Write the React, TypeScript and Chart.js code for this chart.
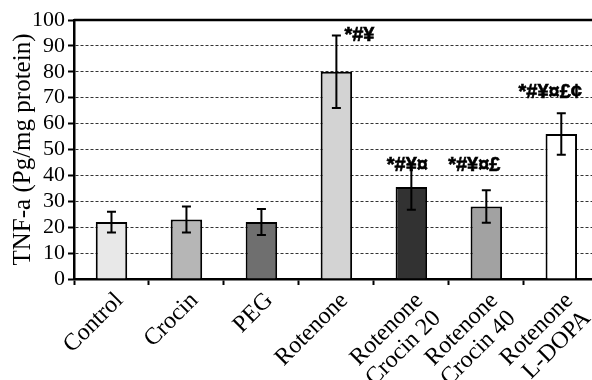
import React, { useEffect, useRef } from "react";
import { Chart, registerables } from "chart.js";

Chart.register(...registerables);

// ---- data ----
const categories: (string | string[])[] = [
  "Control",
  "Crocin",
  "PEG",
  "Rotenone",
  ["Rotenone", "Crocin 20"],
  ["Rotenone", "Crocin 40"],
  ["Rotenone", "L-DOPA"],
];
const meanValues = [22, 23, 22, 80, 35.5, 28, 56];
const errorValues = [4, 5, 5, 14, 8.8, 6.3, 8];
const significanceMarks = ["", "", "", "*#¥", "*#¥¤", "*#¥¤£", "*#¥¤£¢"];
const yMin = 0;
const yMax = 100;
const yStep = 10;
const yTitle = "TNF-a (Pg/mg protein)";

// ---- styles ----
const barColors = ["#e8e8e8", "#b6b6b6", "#6f6f6f", "#d3d3d3", "#323232", "#a2a2a2", "#ffffff"];
// per-bar annotation placement (pixel offsets from bar centre / error-bar top)
const markStyle = [
  null,
  null,
  null,
  { dx: 8, dy: 0, align: "left" },
  { dx: -4, dy: 1, align: "center" },
  { dx: -12, dy: -25, align: "center" },
  { dx: -11, dy: -21, align: "center" },
] as ({ dx: number; dy: number; align: CanvasTextAlign } | null)[];

const serif = "'Liberation Serif', 'Times New Roman', Times, serif";

const errorBarPlugin = {
  id: "errorBars",
  afterDatasetsDraw(chart: any) {
    const ctx = chart.ctx;
    const meta = chart.getDatasetMeta(0);
    const y = chart.scales.y;
    ctx.save();
    ctx.strokeStyle = "#000";
    ctx.lineWidth = 2;
    meta.data.forEach((bar: any, i: number) => {
      const x = bar.x;
      const top = y.getPixelForValue(meanValues[i] + errorValues[i]);
      const bot = y.getPixelForValue(meanValues[i] - errorValues[i]);
      const cap = 4.5;
      ctx.beginPath();
      ctx.moveTo(x, top);
      ctx.lineTo(x, bot);
      ctx.moveTo(x - cap, top);
      ctx.lineTo(x + cap, top);
      ctx.moveTo(x - cap, bot);
      ctx.lineTo(x + cap, bot);
      ctx.stroke();
    });
    // significance marks
    ctx.fillStyle = "#000";
    ctx.strokeStyle = "#000";
    ctx.lineWidth = 0.6;
    ctx.font = "bold 20px 'Liberation Sans', Arial, sans-serif";
    ctx.textBaseline = "middle";
    meta.data.forEach((bar: any, i: number) => {
      const s = markStyle[i];
      if (!s || !significanceMarks[i]) return;
      const top = y.getPixelForValue(meanValues[i] + errorValues[i]);
      ctx.textAlign = s.align;
      ctx.fillText(significanceMarks[i], bar.x + s.dx, top + s.dy);
      ctx.strokeText(significanceMarks[i], bar.x + s.dx, top + s.dy);
    });
    ctx.restore();
  },
};

const topBorderPlugin = {
  id: "topBorder",
  beforeDatasetsDraw(chart: any) {
    const { ctx, chartArea } = chart;
    ctx.save();
    ctx.strokeStyle = "#000";
    ctx.lineWidth = 2.5;
    ctx.beginPath();
    ctx.moveTo(chartArea.left, chartArea.top);
    ctx.lineTo(chartArea.right + 2, chartArea.top);
    ctx.stroke();
    ctx.restore();
  },
};

export default function App() {
  const ref = useRef<HTMLCanvasElement | null>(null);

  useEffect(() => {
    if (!ref.current) return;
    const chart = new Chart(ref.current, {
      type: "bar",
      data: {
        labels: categories,
        datasets: [
          {
            data: meanValues,
            backgroundColor: barColors,
            borderColor: "#000",
            borderWidth: 2,
            barPercentage: 0.42,
            categoryPercentage: 1,
          },
        ],
      },
      options: {
        responsive: false,
        animation: false,
        devicePixelRatio: 1,
        layout: { padding: { top: 20, left: 0, right: 1, bottom: 0 } },
        plugins: {
          legend: { display: false },
          tooltip: { enabled: false },
        },
        scales: {
          x: {
            offset: true,
            afterFit(scale: any) {
              scale.height = 101;
            },
            grid: {
              display: true,
              offset: true,
              drawOnChartArea: false,
              drawTicks: true,
              tickLength: 6,
              tickColor: "#000",
              tickWidth: 2,
            },
            border: { display: true, color: "#000", width: 2.5 },
            ticks: {
              autoSkip: false,
              maxRotation: 45,
              minRotation: 45,
              padding: 3,
              labelOffset: 8,
              color: "#000",
              font: { family: serif, size: 24, lineHeight: 1.05 },
            },
          },
          y: {
            min: yMin,
            max: yMax,
            afterFit(scale: any) {
              scale.width = 74;
            },
            grid: {
              display: true,
              color: "#333",
              lineWidth: 1,
              drawTicks: true,
              tickLength: 6,
              tickColor: "#000",
              tickWidth: 2,
              tickBorderDash: [],
            },
            border: { display: true, color: "#000", width: 2.5, dash: [3, 2] },
            ticks: {
              stepSize: yStep,
              autoSkip: false,
              padding: 3,
              color: "#000",
              font: { family: serif, size: 22 },
            },
            title: {
              display: true,
              text: yTitle,
              color: "#000",
              padding: { top: 8, bottom: 0 },
              font: { family: serif, size: 25 },
            },
          },
        },
      },
      plugins: [topBorderPlugin, errorBarPlugin],
    });
    return () => chart.destroy();
  }, []);

  return (
    <div
      style={{
        position: "fixed",
        left: 0,
        top: 0,
        width: 592,
        height: 380,
        overflow: "hidden",
        background: "#fff",
      }}
    >
      <canvas ref={ref} width={600} height={380} style={{ display: "block" }} />
    </div>
  );
}
